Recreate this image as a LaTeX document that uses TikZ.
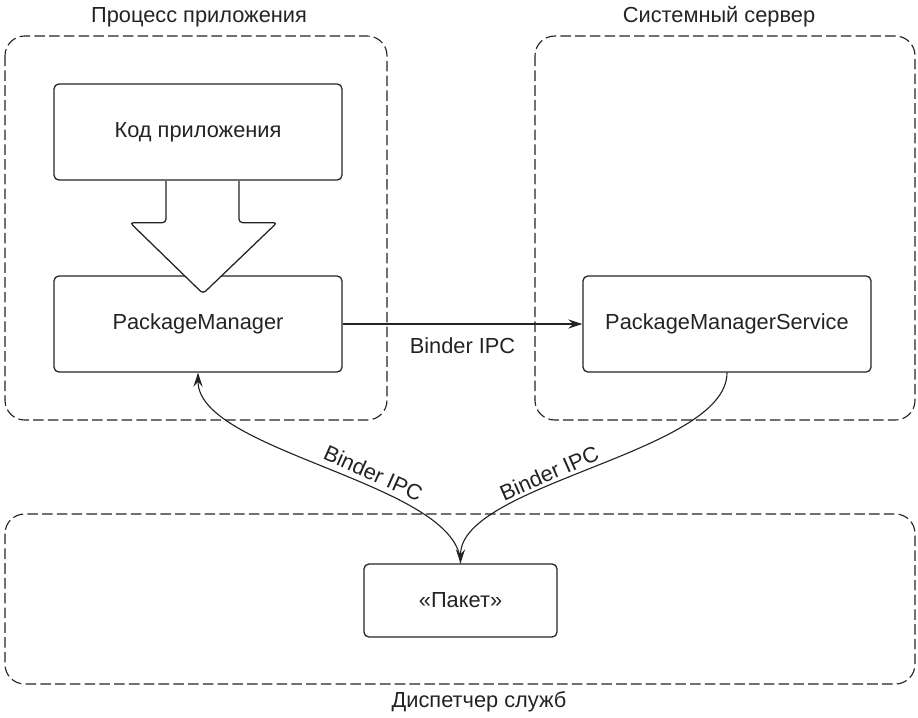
\documentclass[tikz,border=0pt]{standalone}
\usepackage{fontspec}
\setmainfont{Liberation Sans}
\usetikzlibrary{arrows.meta}
\definecolor{ink}{HTML}{232323}

\begin{document}
\begin{tikzpicture}[x=0.025cm,y=-0.025cm,color=ink,
  font=\fontsize{15.5pt}{18pt}\selectfont,
  box/.style={draw,rounded corners=3.5pt,line width=0.9pt,inner sep=0pt,
    minimum width=7.2cm,minimum height=2.4cm},
  group/.style={draw,dash pattern=on 7.5pt off 3pt,line width=0.8pt,rounded corners=14pt},
  conn/.style={line width=0.8pt,-{Stealth[length=10pt,width=6.5pt,inset=3.5pt]}},
  lbl/.style={inner sep=3pt}]

  \useasboundingbox (0,0) rectangle (918,717);

  % process groups
  \draw[group] (5,36) rectangle (387,420);
  \draw[group] (535,36) rectangle (915,420);
  \draw[group] (5,514) rectangle (915,684);
  \node (appname) at (199,17) {Процесс приложения};
  \node (sysname) at (719,17) {Системный сервер};
  \node (smname) at (479,702) {Диспетчер служб};

  % components
  \node[box] (code) at (198,132) {Код приложения};
  \node[box] (pm) at (198,324) {PackageManager};
  \node[box] (pms) at (727,324) {PackageManagerService};
  \node[box,minimum width=4.825cm,minimum height=1.825cm] (pak) at (460.5,600.5) {«Пакет»};

  % call arrow (drawn over the top of pm)
  \filldraw[fill=white,line width=0.9pt,rounded corners=2.5pt]
    (code.south) ++(-32,0.6) -- ++(0,41.4) -- ++(-36,0) -- ++(73,71)
    -- ++(74,-71) -- ++(-38,0) -- ++(0,-41.4);

  % binder calls
  \draw[conn] (pm.east) -- node[inner sep=2pt,below=7.5pt] {Binder IPC} (pms.west);
  \draw[conn] (pak.north) .. controls +(0,-80) and +(0,80) ..
    node[lbl,sloped,above,pos=0.4] {Binder IPC} (pm.south);
  \draw[conn] (pms.south) .. controls +(0,80) and +(0,-80) ..
    node[lbl,sloped,above,pos=0.6] {Binder IPC} (pak.north);
\end{tikzpicture}
\end{document}
